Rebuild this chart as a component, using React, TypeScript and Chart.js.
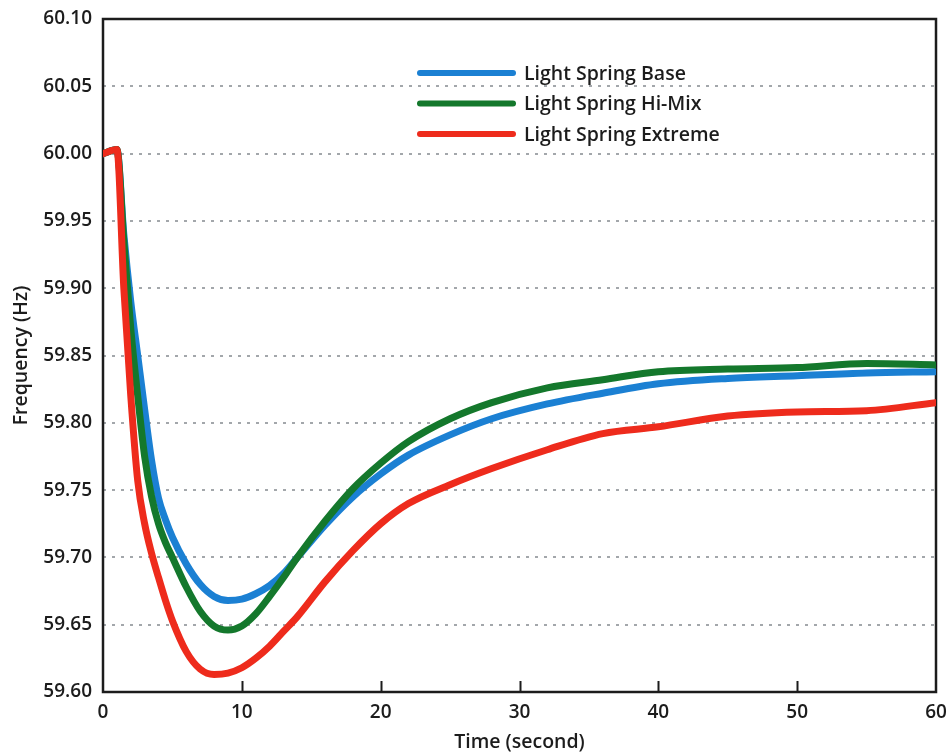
import React, { useEffect, useRef } from "react";
import { Chart, registerables } from "chart.js";

Chart.register(...registerables);

const timeSec = [0, 1, 1.5, 2, 2.5, 3, 3.5, 4, 4.5, 5, 6, 7, 8, 9, 10, 11, 12, 13, 14, 16, 18, 20, 22, 25, 28, 32, 36, 40, 45, 50, 55, 60];
const baseHz = [60.0, 60.003, 59.94, 59.89, 59.85, 59.81, 59.772, 59.744, 59.728, 59.715, 59.695, 59.68, 59.671, 59.668, 59.669, 59.673, 59.679, 59.688, 59.7, 59.724, 59.745, 59.762, 59.776, 59.791, 59.803, 59.814, 59.822, 59.829, 59.833, 59.835, 59.837, 59.838];
const hiMixHz = [60.0, 60.003, 59.935, 59.87, 59.82, 59.775, 59.745, 59.725, 59.711, 59.7, 59.678, 59.66, 59.649, 59.646, 59.649, 59.658, 59.671, 59.685, 59.7, 59.727, 59.751, 59.77, 59.786, 59.803, 59.815, 59.826, 59.832, 59.838, 59.84, 59.841, 59.844, 59.843];
const extremeHz = [60.0, 60.003, 59.9, 59.82, 59.757, 59.725, 59.703, 59.685, 59.668, 59.653, 59.63, 59.617, 59.613, 59.614, 59.618, 59.625, 59.634, 59.645, 59.656, 59.682, 59.705, 59.725, 59.74, 59.754, 59.766, 59.78, 59.792, 59.797, 59.805, 59.808, 59.809, 59.815];

const seriesLabels = ["Light Spring Base", "Light Spring Hi-Mix", "Light Spring Extreme"];
const seriesColors = ["#1b80d3", "#14782c", "#ee2b1c"];
const xTickValues = [10, 20, 30, 40, 50];

const FONT = "'Open Sans', Lato, sans-serif";
const WEIGHT = 600;
const INK = "#1c1c1c";

const framePlugin = {
  id: "frameAndTicks",
  beforeDatasetsDraw(chart: any) {
    const { ctx, chartArea, scales } = chart;
    ctx.save();
    ctx.strokeStyle = INK;
    ctx.lineWidth = 2;
    ctx.beginPath();
    for (const v of xTickValues) {
      const px = Math.round(scales.x.getPixelForValue(v)) + 0.5;
      ctx.moveTo(px, chartArea.bottom);
      ctx.lineTo(px, chartArea.bottom - 11);
    }
    ctx.stroke();
    ctx.lineWidth = 2.5;
    ctx.strokeRect(chartArea.left, chartArea.top, chartArea.right - chartArea.left, chartArea.bottom - chartArea.top);
    ctx.restore();
  },
  afterDatasetsDraw(chart: any) {
    const { ctx, chartArea } = chart;
    const x0 = chartArea.left + 317;
    const x1 = x0 + 93;
    const y0 = chartArea.top + 54;
    const gap = 30.5;
    ctx.save();
    ctx.font = `${WEIGHT} 19.5px ${FONT}`;
    ctx.textBaseline = "middle";
    ctx.textAlign = "left";
    chart.data.datasets.forEach((ds: any, i: number) => {
      const y = y0 + i * gap;
      ctx.strokeStyle = ds.borderColor;
      ctx.lineWidth = 6;
      ctx.lineCap = "round";
      ctx.beginPath();
      ctx.moveTo(x0, y);
      ctx.lineTo(x1, y);
      ctx.stroke();
      ctx.fillStyle = INK;
      ctx.fillText(ds.label, x1 + 11, y + 1);
    });
    ctx.restore();
  },
};

const isEdge = (v: number) => Math.abs(v - 60.1) < 1e-6 || Math.abs(v - 59.6) < 1e-6;

export default function App() {
  const ref = useRef<HTMLCanvasElement | null>(null);

  useEffect(() => {
    const canvas = ref.current;
    if (!canvas) return;
    const seriesValues = [baseHz, hiMixHz, extremeHz];
    const chart = new Chart(canvas, {
      type: "line",
      data: {
        datasets: seriesValues.map((vals, i) => ({
          label: seriesLabels[i],
          data: timeSec.map((t, j) => ({ x: t, y: vals[j] })),
          borderColor: seriesColors[i],
          backgroundColor: seriesColors[i],
          borderWidth: 7,
          pointRadius: 0,
          fill: false,
          cubicInterpolationMode: "monotone" as const,
          borderCapStyle: "round" as const,
          borderJoinStyle: "round" as const,
          order: 2 - i,
        })),
      },
      options: {
        animation: false,
        responsive: false,
        layout: { padding: { left: 0, right: 13, top: 19, bottom: 0 } },
        plugins: { legend: { display: false }, tooltip: { enabled: false } },
        scales: {
          x: {
            type: "linear",
            min: 0,
            max: 60,
            ticks: {
              stepSize: 10,
              color: INK,
              font: { family: FONT, size: 19, weight: WEIGHT },
              padding: 9,
              maxRotation: 0,
            },
            grid: { display: false, drawTicks: false },
            border: { display: false },
            title: {
              display: true,
              text: "Time (second)",
              color: INK,
              font: { family: FONT, size: 19.5, weight: WEIGHT },
              padding: { top: 0, bottom: 0 },
            },
            afterFit(scale: any) {
              scale.height = 62;
              scale.paddingLeft = 0;
              scale.paddingRight = 0;
            },
          },
          y: {
            type: "linear",
            min: 59.6,
            max: 60.1,
            ticks: {
              stepSize: 0.05,
              color: INK,
              font: { family: FONT, size: 19, weight: WEIGHT },
              padding: 11,
              callback: (v: any) => Number(v).toFixed(2),
            },
            grid: {
              drawTicks: false,
              lineWidth: 2,
              color: (c: any) => (c.tick && isEdge(c.tick.value) ? "rgba(0,0,0,0)" : "#a3a7ab"),
            },
            border: { display: false, dash: [3, 6] },
            title: {
              display: true,
              text: "Frequency (Hz)",
              color: INK,
              font: { family: FONT, size: 19.5, weight: WEIGHT },
              padding: { top: 10, bottom: 0 },
            },
            afterFit(scale: any) {
              scale.width = 103;
              scale.paddingTop = 0;
              scale.paddingBottom = 0;
            },
          },
        },
      },
      plugins: [framePlugin],
    });
    return () => chart.destroy();
  }, []);

  return (
    <div style={{ position: "absolute", left: 0, top: 0, width: 949, height: 754, background: "#fff" }}>
      <canvas ref={ref} width={949} height={754} style={{ width: 949, height: 754, display: "block" }} />
    </div>
  );
}
